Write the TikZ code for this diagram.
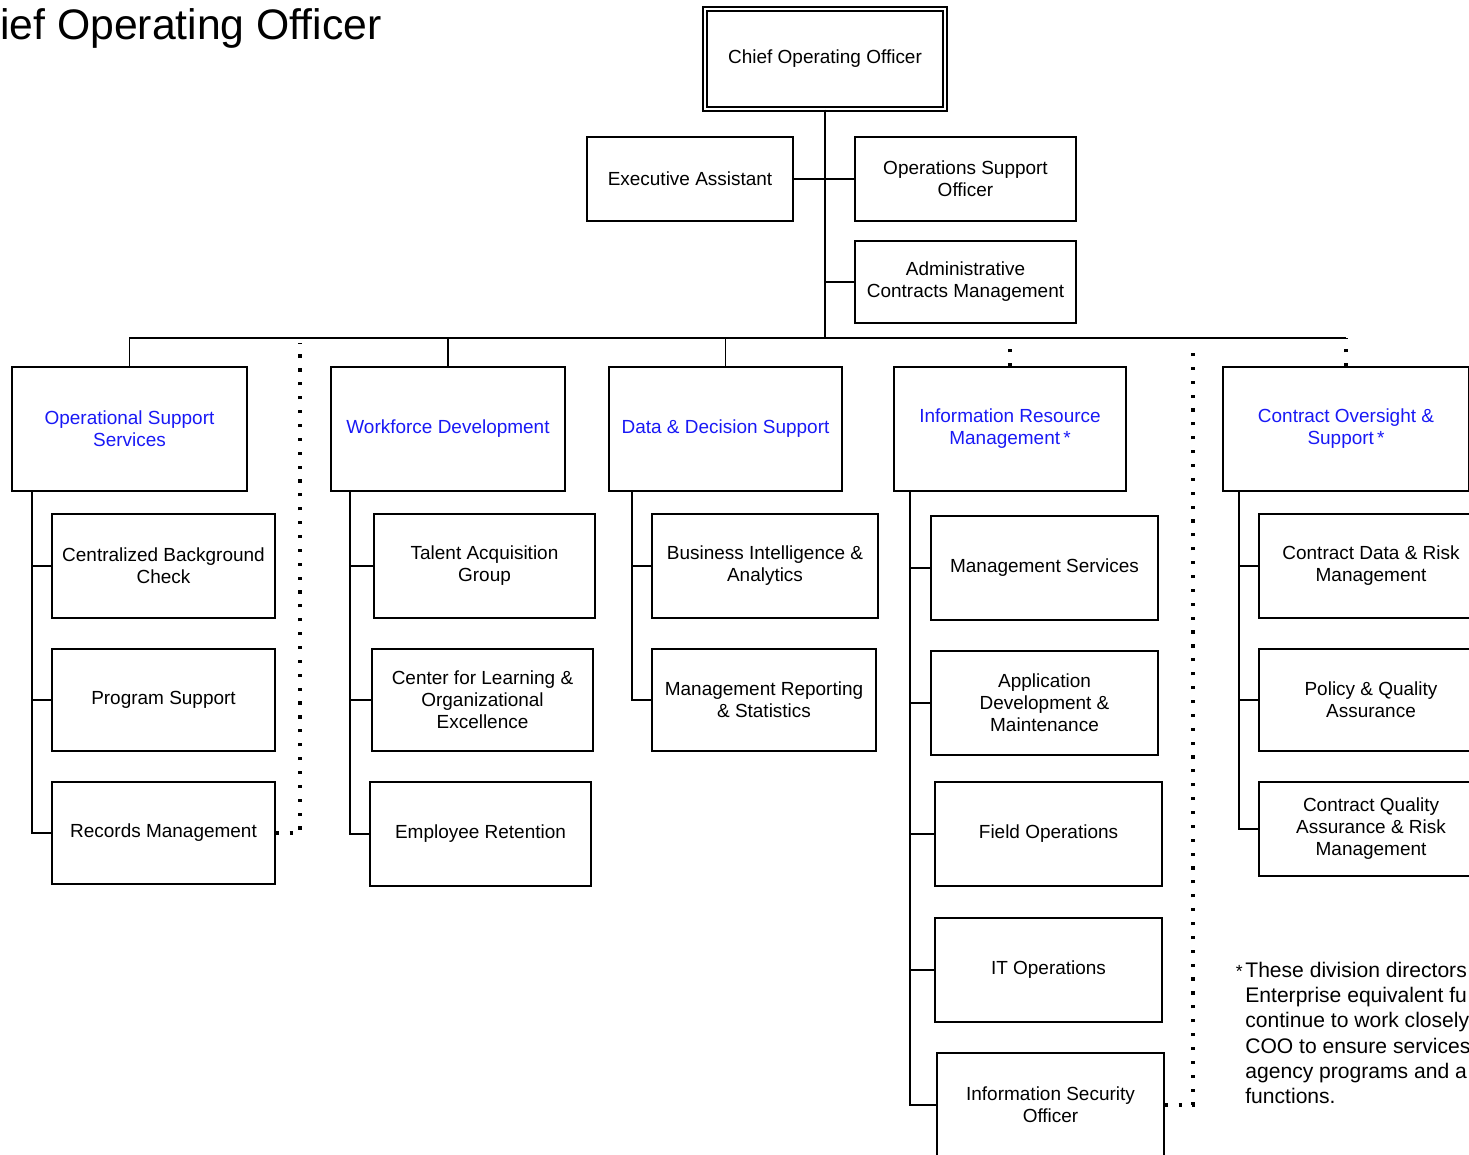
\documentclass[tikz,border=0pt]{standalone}
\usepackage{fontspec}
\setmainfont{Liberation Sans}
\usetikzlibrary{positioning}

\definecolor{divblue}{RGB}{25,25,245}

\tikzset{
  unit/.style 2 args={minimum width=#1*0.02cm, minimum height=#2*0.02cm},
  box/.style={draw, line width=0.8pt, align=center, inner sep=2pt,
              font=\fontsize{10.8}{12.5}\selectfont},
  divbox/.style={box, text=divblue},
  topbox/.style={box, double, double distance=1.5pt},
  link/.style={line width=0.6pt},
  dotlink/.style={line width=1.8pt, dash pattern=on 1.8pt off 6.1pt},
}

\begin{document}
\begin{tikzpicture}[x=0.02cm, y=-0.02cm]
  \useasboundingbox (0,0) rectangle (1469,1154);

  % titel (links afgesneden)
  \node[anchor=west, inner sep=0pt, font=\fontsize{24.3}{28}\selectfont] (title) at (0,28) {ief Operating Officer};

  % --- top ---
  \node[topbox, unit={240}{100}] (coo) at (825,59) {Chief Operating Officer};
  \node[box, unit={206}{84}] (ea) at (690,179) {Executive Assistant};
  \node[box, unit={221}{84}] (oso) at (965.5,179) {Operations Support\\Officer};
  \node[box, unit={221}{82}] (acm) at (965.5,282) {Administrative\\Contracts Management};

  % --- divisies ---
  \node[divbox, unit={235}{124}] (oss) at (129.5,429) {Operational Support\\Services};
  \node[divbox, unit={234}{124}] (wd)  at (448,429) {Workforce Development};
  \node[divbox, unit={233}{124}] (dds) at (725.5,429) {Data \& Decision Support};
  \node[divbox, unit={232}{124}] (irm) at (1010,429) {Information Resource\\Management\,*};
  \node[divbox, unit={246}{124}] (cos) at (1346,429) {Contract Oversight \&\\Support\,*};

  % --- afdelingen ---
  \node[box, unit={223}{104}] (cbc) at (163.5,566) {Centralized Background\\Check};
  \node[box, unit={223}{102}] (ps)  at (163.5,700) {Program Support};
  \node[box, unit={223}{102}] (rm)  at (163.5,833) {Records Management};

  \node[box, unit={221}{104}] (tag) at (484.5,566) {Talent Acquisition\\Group};
  \node[box, unit={221}{102}] (cle) at (482.5,700) {Center for Learning \&\\Organizational\\Excellence};
  \node[box, unit={221}{104}] (er)  at (480.5,834) {Employee Retention};

  \node[box, unit={226}{104}] (bia) at (765,566) {Business Intelligence \&\\Analytics};
  \node[box, unit={224}{102}] (mrs) at (764,700) {Management Reporting\\\& Statistics};

  \node[box, unit={227}{104}] (ms)  at (1044.5,568) {Management Services};
  \node[box, unit={227}{104}] (adm) at (1044.5,703) {Application\\Development \&\\Maintenance};
  \node[box, unit={227}{104}] (fo)  at (1048.5,834) {Field Operations};
  \node[box, unit={227}{104}] (ito) at (1048.5,970) {IT Operations};
  \node[box, unit={227}{104}] (iso) at (1050.5,1105) {Information Security\\Officer};

  \node[box, unit={224}{104}] (cdrm) at (1371,566) {Contract Data \& Risk\\Management};
  \node[box, unit={224}{102}] (pqa)  at (1371,700) {Policy \& Quality\\Assurance};
  \node[box, unit={224}{94}]  (cqa)  at (1371,829) {Contract Quality\\Assurance \& Risk\\Management};

  % voetnoot
  \node[anchor=north west, align=left, inner sep=0pt,
        font=\fontsize{12}{14.3}\selectfont] (note) at (1245,962)
    {\llap{{\fontsize{10}{10}\selectfont *}\hspace{1.5pt}}These division directors\\
     Enterprise equivalent fu\\
     continue to work closely\\
     COO to ensure services\\
     agency programs and a\\
     functions.};

  % --- lijnen ---
  \coordinate (trunk) at (825,338);
  \draw[link] (coo.south) -- (trunk);
  \draw[link] (ea.east) -- (ea.east -| trunk);
  \draw[link] (oso.west) -- (oso.west -| trunk);
  \draw[link] (acm.west) -- (acm.west -| trunk);
  \draw[link] (oss.north) -- (oss.north |- trunk) -- (cos.north |- trunk);
  \draw[link] (wd.north) -- (wd.north |- trunk);
  \draw[link] (dds.north) -- (dds.north |- trunk);
  \draw[dotlink] (irm.north) -- (irm.north |- trunk);
  \draw[dotlink] (cos.north) -- (cos.north |- trunk);

  % kolomlijnen
  \coordinate (ossline) at (32,491);
  \coordinate (wdline)  at (350,491);
  \coordinate (ddsline) at (632,491);
  \coordinate (irmline) at (910,491);
  \coordinate (cosline) at (1239,491);

  \draw[link] (ossline) |- (rm.west);
  \foreach \b in {cbc,ps} \draw[link] (ossline |- \b.west) -- (\b.west);
  \draw[link] (wdline) |- (er.west);
  \foreach \b in {tag,cle} \draw[link] (wdline |- \b.west) -- (\b.west);
  \draw[link] (ddsline) |- (mrs.west);
  \draw[link] (ddsline |- bia.west) -- (bia.west);
  \draw[link] (irmline) |- (iso.west);
  \foreach \b in {ms,adm,fo,ito} \draw[link] (irmline |- \b.west) -- (\b.west);
  \draw[link] (cosline) |- (cqa.west);
  \foreach \b in {cdrm,pqa} \draw[link] (cosline |- \b.west) -- (\b.west);

  % stippellijnen
  \coordinate (dotA) at (300,343);
  \coordinate (dotB) at (1193,343);
  \draw[dotlink] (rm.east) -| (dotA);
  \draw[dotlink] (iso.east) -| (dotB);
\end{tikzpicture}
\end{document}
